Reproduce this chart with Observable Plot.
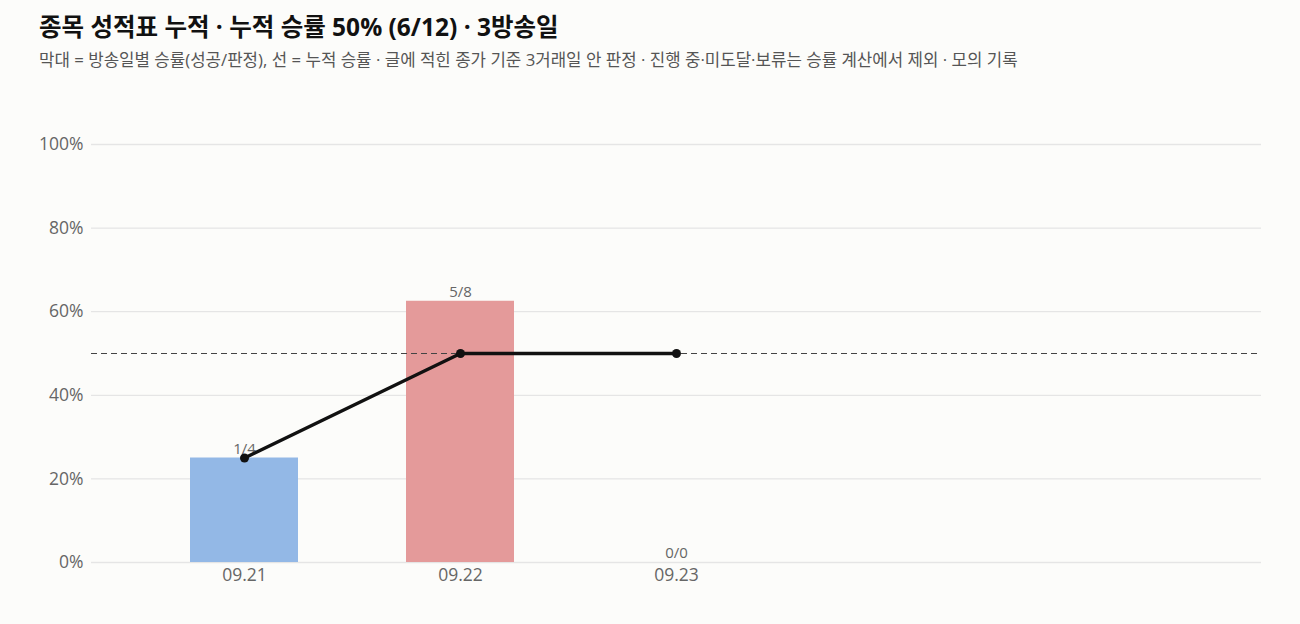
<!DOCTYPE html>
<html>
<head>
<meta charset="utf-8">
<script src="https://cdn.jsdelivr.net/npm/d3@7"></script>
<script src="https://cdn.jsdelivr.net/npm/@observablehq/plot@0.6"></script>
<style>
  html, body { margin: 0; padding: 0; background: #fcfcfa; }
  body { width: 1300px; height: 624px; overflow: hidden; font-family: "Open Sans", "Noto Sans", "Noto Sans CJK KR", sans-serif; }
  #title { position: absolute; left: 39px; top: 12px; font-size: 24.5px; font-weight: 700; color: #111; line-height: 1.2; }
  #subtitle { position: absolute; left: 39px; top: 50px; font-size: 16.8px; color: #555; line-height: 1.2; }
  #chart { position: absolute; left: 0; top: 80px; }
</style>
</head>
<body>
<div id="title">종목 성적표 누적 · 누적 승률 50% (6/12) · 3방송일</div>
<div id="subtitle">막대 = 방송일별 승률(성공/판정), 선 = 누적 승률 · 글에 적힌 종가 기준 3거래일 안 판정 · 진행 중·미도달·보류는 승률 계산에서 제외 · 모의 기록</div>
<div id="chart"></div>
<script>
const dates = ["09.21", "09.22", "09.23"];
const slots = ["09.21", "09.22", "09.23", "·4", "·5"];
const wins = [1, 5, 0];
const judged = [4, 8, 0];
const dailyRate = [25, 62.5, 0];
const cumRate = [25, 50, 50];
const baseline = 50;
const yTicks = [0, 20, 40, 60, 80, 100];
const barColors = ["#93b8e6", "#e49a9a", "#93b8e6"];

const rows = dates.map((d, i) => ({
  date: d,
  rate: dailyRate[i],
  cum: cumRate[i],
  label: `${wins[i]}/${judged[i]}`,
  color: barColors[i]
}));

const chart = Plot.plot({
  width: 1300,
  height: 530,
  marginTop: 64,
  marginBottom: 48,
  marginLeft: 91,
  marginRight: 39,
  style: { background: "transparent", fontFamily: "'Open Sans', 'Noto Sans', sans-serif", fontSize: "14px", color: "#666" },
  x: { domain: slots, paddingInner: 0.5, paddingOuter: 0.45, label: null },
  y: { domain: [0, 100], label: null },
  marks: [
    Plot.gridY(yTicks, { stroke: "#e5e5e5", strokeOpacity: 1, strokeWidth: 1.3 }),
    Plot.axisY(yTicks, { tickSize: 0, tickPadding: 8, tickFormat: d => d + "%", fontSize: 17.5, fill: "#666" }),
    Plot.axisX(dates, { tickSize: 0, tickPadding: 6, fontSize: 17.5, fill: "#666" }),
    Plot.barY(rows, { x: "date", y: "rate", fill: "color" }),
    Plot.text(rows, { x: "date", y: "rate", text: "label", dy: -9, fontSize: 15, fill: "#666" }),
    Plot.ruleY([baseline], { stroke: "#444", strokeDasharray: "6,4", strokeWidth: 1.2 }),
    Plot.line(rows, { x: "date", y: "cum", stroke: "#111", strokeWidth: 3.4 }),
    Plot.dot(rows, { x: "date", y: "cum", r: 4.5, fill: "#111", stroke: null })
  ]
});
document.getElementById("chart").appendChild(chart);
</script>
</body>
</html>
